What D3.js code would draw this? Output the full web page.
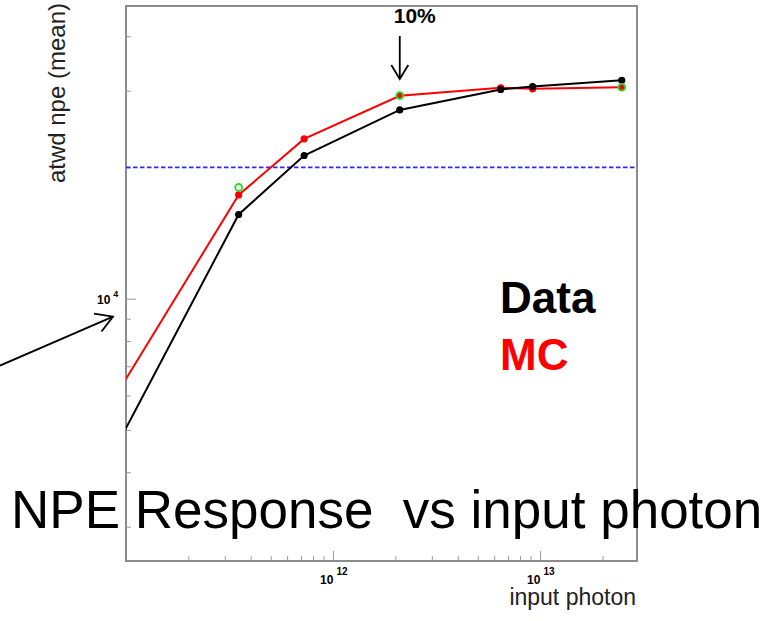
<!DOCTYPE html>
<html>
<head>
<meta charset="utf-8">
<script src="https://d3js.org/d3.v7.min.js"></script>
<style>
  body { margin: 0; background: #fff; }
  text { font-family: "Liberation Sans", Arial, Helvetica, sans-serif; }
</style>
</head>
<body>
<div id="chart"></div>
<script>
// values
var photons   = [8e10, 3.5e11, 7.25e11, 2.1e12, 6.45e12, 9.2e12, 2.48e13];
var dataNpe   = [4130, 15600, 21300, 27100, 30200, 30650, 31700];
var mcNpe     = [5510, 17300, 23250, 29200, 30450, 30300, 30550];
var greenX    = [3.5e11, 2.1e12, 2.48e13];
var greenNpe  = [18000, 29250, 30550];
var refLevel  = 20000;
var xMajor    = [1e12, 1e13];
var xMinor    = [2e11,3e11,4e11,5e11,6e11,7e11,8e11,9e11,2e12,3e12,4e12,5e12,6e12,7e12,8e12,9e12,2e13];
var yMajor    = [1e4];
var yMinor    = [3e3,4e3,5e3,6e3,7e3,8e3,9e3,2e4,3e4,4e4];

var W = 769, H = 621;
var pL = 126, pR = 637, pT = 6, pB = 561;

var svg = d3.select("#chart").append("svg")
    .attr("width", W).attr("height", H);

// log scales
var x = d3.scaleLog().domain([1e11, Math.pow(10, 13.468)]).range([pL, pR]);
var y = d3.scaleLog().domain([Math.pow(10, 3.3984), Math.pow(10, 4.6713)]).range([pB, pT]);

svg.append("clipPath").attr("id", "plotclip")
  .append("rect")
    .attr("x", pL).attr("y", pT)
    .attr("width", pR - pL).attr("height", pB - pT);

// ticks
function ticks(axis, vals, size, translate) {
  var g = svg.append("g")
    .attr("transform", translate)
    .call(axis.tickValues(vals).tickSize(size).tickFormat(""));
  g.select(".domain").remove();
  g.selectAll("line").attr("stroke", "#9a9a9a").attr("stroke-width", 1);
  return g;
}
ticks(d3.axisTop(x), xMinor, 5, "translate(0," + pB + ")");
ticks(d3.axisTop(x), xMajor, 10, "translate(0," + pB + ")");
ticks(d3.axisRight(y), yMinor, 5, "translate(" + pL + ",0)");
ticks(d3.axisRight(y), yMajor, 10, "translate(" + pL + ",0)");

// frame
svg.append("rect")
    .attr("x", pL).attr("y", pT)
    .attr("width", pR - pL).attr("height", pB - pT)
    .attr("fill", "none").attr("stroke", "#8c8c8c").attr("stroke-width", 2);

// tick labels 10^n
xMajor.forEach(function(v) {
  var t = svg.append("text")
      .attr("x", x(v) - 13).attr("y", 584)
      .attr("font-size", 12).attr("font-weight", "bold").attr("fill", "#000");
  t.append("tspan").text("10");
  t.append("tspan").attr("dx", 3).attr("dy", -9).attr("font-size", 10)
    .text(Math.round(Math.log10(v)));
});
yMajor.forEach(function(v) {
  var t = svg.append("text")
      .attr("x", 97).attr("y", y(v) + 5)
      .attr("font-size", 12).attr("font-weight", "bold").attr("fill", "#000");
  t.append("tspan").text("10");
  t.append("tspan").attr("dx", 3).attr("dy", -7).attr("font-size", 9)
    .text(Math.round(Math.log10(v)));
});

var plot = svg.append("g").attr("clip-path", "url(#plotclip)");

// reference level
plot.append("line")
    .attr("x1", pL).attr("x2", pR)
    .attr("y1", y(refLevel)).attr("y2", y(refLevel))
    .attr("stroke", "#2a2aff").attr("stroke-width", 1.8)
    .attr("stroke-dasharray", "4.5,2.5");

var line = d3.line()
    .x(function(d) { return x(d[0]); })
    .y(function(d) { return y(d[1]); });

var mc = photons.map(function(p, i) { return [p, mcNpe[i]]; });
var dat = photons.map(function(p, i) { return [p, dataNpe[i]]; });

plot.append("path").datum(mc)
    .attr("fill", "none").attr("stroke", "#ff0000").attr("stroke-width", 2)
    .attr("d", line);
plot.selectAll(".mcpt").data(mc).enter().append("circle")
    .attr("cx", function(d) { return x(d[0]); })
    .attr("cy", function(d) { return y(d[1]); })
    .attr("r", 3.6).attr("fill", "#ff0000");

plot.append("path").datum(dat)
    .attr("fill", "none").attr("stroke", "#000").attr("stroke-width", 2)
    .attr("d", line);
plot.selectAll(".datpt").data(dat).enter().append("circle")
    .attr("cx", function(d) { return x(d[0]); })
    .attr("cy", function(d) { return y(d[1]); })
    .attr("r", 3.6).attr("fill", "#000");

plot.selectAll(".grpt").data(greenX).enter().append("circle")
    .attr("cx", function(d) { return x(d); })
    .attr("cy", function(d, i) { return y(greenNpe[i]); })
    .attr("r", 3.4).attr("fill", "none")
    .attr("stroke", "#22e022").attr("stroke-width", 1.8);

// axis titles
svg.append("text")
    .attr("transform", "translate(65,3) rotate(-90)")
    .attr("text-anchor", "end")
    .attr("font-size", 24).attr("fill", "#222")
    .text("atwd npe (mean)");
svg.append("text")
    .attr("x", 636).attr("y", 605)
    .attr("text-anchor", "end")
    .attr("font-size", 23).attr("fill", "#222")
    .text("input photon");

// 10% arrow at the third point
var ax = x(photons[3]);
svg.append("text")
    .attr("x", ax + 15).attr("y", 23)
    .attr("text-anchor", "middle")
    .attr("font-size", 21).attr("font-weight", "bold")
    .text("10%");
var arrow = svg.append("g").attr("stroke", "#000").attr("stroke-width", 1.8).attr("fill", "none");
arrow.append("line").attr("x1", ax).attr("x2", ax).attr("y1", 36).attr("y2", 79);
arrow.append("polyline").attr("points", [[ax - 8.5, 65], [ax, 79], [ax + 8.5, 65]].join(" "));

// arrow pointing at the y axis
var tipX = pL - 13, tipY = y(9100);
arrow.append("line").attr("x1", 0).attr("y1", tipY + 49).attr("x2", tipX).attr("y2", tipY);
arrow.append("polyline").attr("points",
  [[tipX - 19, tipY - 3], [tipX, tipY], [tipX - 11.5, tipY + 15]].join(" "));

// legend text
svg.append("text").attr("x", 500).attr("y", 313)
    .attr("font-size", 44).attr("font-weight", "bold").attr("fill", "#000")
    .text("Data");
svg.append("text").attr("x", 500).attr("y", 370)
    .attr("font-size", 44).attr("font-weight", "bold").attr("fill", "#ff0000")
    .text("MC");

// big caption
svg.append("text").attr("x", 11).attr("y", 528)
    .attr("font-size", 53).attr("fill", "#000")
    .style("white-space", "pre")
    .text("NPE Response  vs input photon");
</script>
</body>
</html>
